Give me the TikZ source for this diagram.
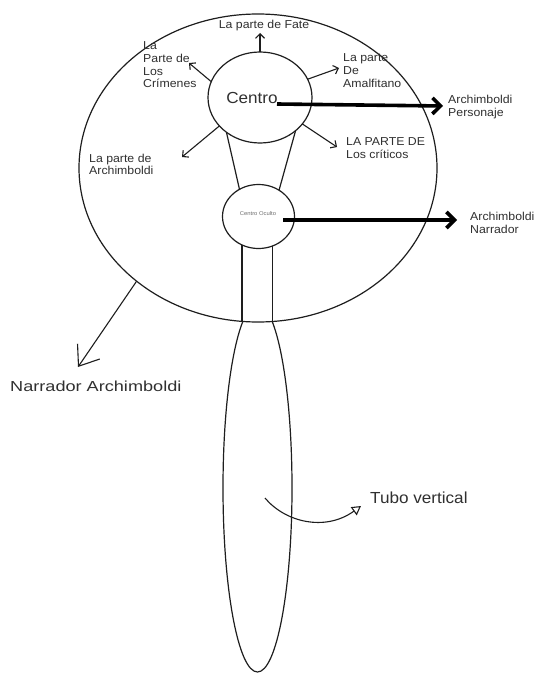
\documentclass[tikz,border=0pt]{standalone}
\usepackage{fontspec}
\setmainfont{Liberation Sans}[FakeStretch=1.07]
\newfontfamily\widefont{Liberation Sans}[FakeStretch=1.25]
\usetikzlibrary{arrows.meta,shapes.geometric}
\definecolor{ink}{HTML}{1E1E1E}
\definecolor{txt}{HTML}{303030}
\begin{document}
\begin{tikzpicture}[x=1pt,y=-1pt,
  shapeln/.style={ellipse, draw=ink, line width=1.2pt, inner sep=0pt, outer sep=0pt},
  ln/.style={draw=ink, line width=1.2pt},
  lbl/.style={text=txt, font=\fontsize{11.5}{12.7}\selectfont, align=left, inner sep=0pt, anchor=west},
  thinarrow/.style={draw=ink, line width=1.1pt, -{Straight Barb[length=4.5pt,width=9pt]}},
  boldarrow/.style={draw=black, line width=3.6pt, -{Straight Barb[length=8pt,width=16pt]}},
  bigbarb/.style={draw=ink, line width=1.1pt, -{Straight Barb[length=18pt,width=27pt]}},
  tubearrow/.style={draw=ink, line width=1.1pt, -{Triangle[open,length=9pt,width=10pt]}}]
\useasboundingbox[fill=white] (0,0) rectangle (536,674);

% shapes
\node[shapeln, minimum width=358pt, minimum height=308pt] (big) at (258,168) {};
\node[shapeln, minimum width=104pt, minimum height=91pt] (centro) at (260,97.5) {};
\node[shapeln, minimum width=72pt, minimum height=64pt] (oculto) at (258.5,216.5) {};
\coordinate (tubeTop) at (258,322);
\begin{scope}
  \clip (0,322) rectangle (536,680);
  \draw[ln] (257.5,488) ellipse [x radius=34.5pt, y radius=184pt];
\end{scope}

% neck connectors
\draw[ln] (centro.226) -- (oculto.125);
\draw[ln] (centro.-43) -- (oculto.52);
\draw[ln] (oculto.240) -- (oculto.240 |- tubeTop);
\draw[ln] (oculto.-64) -- (oculto.-64 |- tubeTop);

% texts
\node[text=txt, font=\fontsize{16}{18}\selectfont, inner sep=0pt] (centroT) at (252,98) {Centro};
\node[text=txt!70, font=\fontsize{5.5}{6}\selectfont, inner sep=0pt] (ocultoT) at (258,214) {Centro Oculto};
\node[lbl, anchor=base] (fate) at (264,29) {La parte de Fate};
\node[lbl] (crim) at (143,65) {La\\Parte de\\Los\\Crímenes};
\node[lbl] (amal) at (343,70.5) {La parte\\De\\Amalfitano};
\node[lbl] (pers) at (448,107) {Archimboldi\\Personaje};
\node[lbl] (crit) at (346,148) {LA PARTE DE\\Los críticos};
\node[lbl] (archi) at (89,164.5) {La parte de\\Archimboldi};
\node[lbl] (narr) at (470,223) {Archimboldi\\Narrador};
\node[text=txt, font=\widefont\fontsize{14.5}{16}\selectfont, inner sep=0pt, anchor=west] (narrBig) at (10,386) {Narrador Archimboldi};
\node[text=txt, font=\fontsize{16}{18}\selectfont, inner sep=0pt, anchor=west] (tubo) at (370,497.5) {Tubo vertical};

% arrow end points
\coordinate (fateTip) at (260,33);
\coordinate (crimTip) at (189,63);
\coordinate (amalTip) at (339,68);
\coordinate (critTip) at (337,147);
\coordinate (archTip) at (182,157);
\coordinate (persStart) at (277,104);
\coordinate (persTip) at (443,106);
\coordinate (narrStart) at (283,220);
\coordinate (narrTip) at (457,220);
\coordinate (narTip) at (78,367);
\coordinate (tuboStart) at (265,498);
\coordinate (tuboTip) at (361,506);

% thin arrows from Centro
\draw[thinarrow] (centro.north) -- (fateTip);
\draw[thinarrow] (centro.162) -- (crimTip);
\draw[thinarrow] (centro.21) -- (amalTip);
\draw[thinarrow] (centro.-32) -- (critTip);
\draw[thinarrow] (centro.215) -- (archTip);

% bold arrows
\draw[boldarrow] (persStart) -- (persTip);
\draw[boldarrow] (narrStart) -- (narrTip);

% big arrow to Narrador Archimboldi
\draw[bigbarb] (big.223) -- (narTip);

% tube arrow
\draw[tubearrow] (tuboStart) .. controls (285,522) and (325,532) .. (tuboTip);
\end{tikzpicture}
\end{document}
